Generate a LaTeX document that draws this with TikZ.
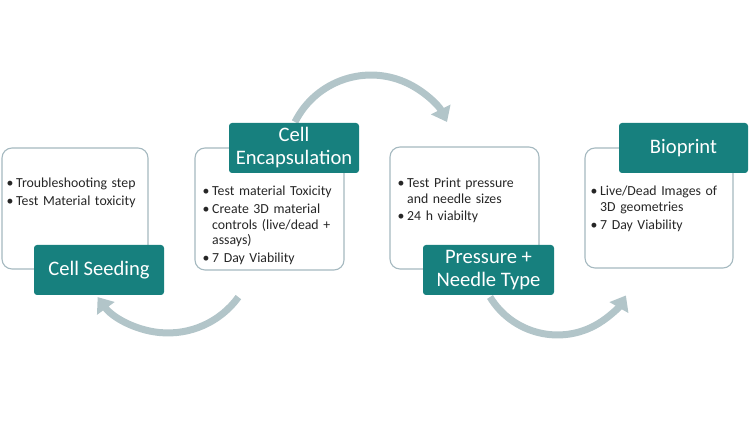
\documentclass[tikz,border=0pt]{standalone}
\usepackage{fontspec}
\setmainfont{Carlito}
\usetikzlibrary{arrows.meta}
\definecolor{tealbox}{RGB}{23,128,126}
\definecolor{boxline}{RGB}{165,185,192}
\definecolor{arrowgray}{RGB}{178,197,201}
\newcommand\bitem[1]{\par\hangindent=9.5pt\hangafter=1\noindent\makebox[9.5pt][l]{\textbullet}#1\par\vspace{1.5pt}}
\begin{document}
\begin{tikzpicture}[x=1pt,y=1pt,
 whitebox/.style={draw=boxline, line width=1.1pt, rounded corners=10pt, fill=white, inner sep=0},
 tealnode/.style={fill=tealbox, rounded corners=3pt, text=white, font=\fontsize{20.6}{23}\selectfont, align=center, minimum width=130pt, minimum height=50pt, inner sep=0},
 bullets/.style={anchor=north west, inner sep=0, text width=150pt, align=left, font=\fontsize{13.8}{15.8}\selectfont, text=black!85},
 cyclearrow/.style={draw=arrowgray, line width=7pt, -{Triangle[width=21pt,length=14pt]}}]
\useasboundingbox (0,0) rectangle (750,422);
% white boxes
\node[whitebox, minimum width=146pt, minimum height=121pt] (b1) at (75,213.5) {};
\node[whitebox, minimum width=149pt, minimum height=122pt] (b2) at (269.5,213) {};
\node[whitebox, minimum width=149pt, minimum height=122pt] (b3) at (464.5,214) {};
\node[whitebox, minimum width=148pt, minimum height=120pt] (b4) at (659,214) {};
% texts
\node[bullets] (t1) at (6.5,250) {\bitem{Troubleshooting step}\bitem{Test Material toxicity}};
\node[bullets] (t2) at (202.5,242) {\bitem{Test material Toxicity}\bitem{Create 3D material\newline controls (live/dead +\newline assays)}\bitem{7 Day Viability}};
\node[bullets] (t3) at (397.5,250.5) {\bitem{Test Print pressure\newline and needle sizes}\bitem{24 h viabilty}};
\node[bullets] (t4) at (590.5,242) {\bitem{Live/Dead Images of\newline 3D geometries}\bitem{7 Day Viability}};
% arrows
\coordinate (a1s) at (238.4,124.9);
\coordinate (a2s) at (295,300);
\coordinate (a3s) at (490,125);
\draw[cyclearrow] (a1s) arc[start angle=-36, end angle=-144, radius=87];
\draw[cyclearrow] (a2s) arc[start angle=153.4, end angle=26.6, radius=85];
\draw[cyclearrow] (a3s) arc[start angle=-148.7, end angle=-30, radius=79];
% teal title boxes
\node[tealnode] (h1) at (99,152) {Cell Seeding};
\node[tealnode] (h2) at (294,274) {Cell\\Encapsulation};
\node[tealnode, minimum width=131pt] (h3) at (488.5,152) {Pressure +\\Needle Type};
\node[tealnode, minimum width=129pt] (h4) at (683.5,274) {Bioprint};
\end{tikzpicture}
\end{document}
